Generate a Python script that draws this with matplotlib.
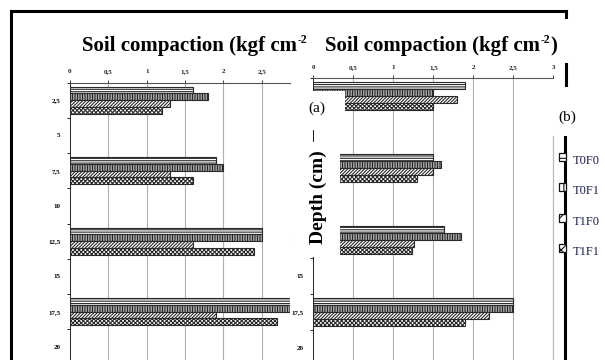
import matplotlib
matplotlib.use("Agg")
import matplotlib.pyplot as plt
from matplotlib.patches import Rectangle
from matplotlib.lines import Line2D
import numpy as np

plt.rcParams['font.family'] = ['Liberation Serif', 'DejaVu Serif']
plt.rcParams['hatch.linewidth'] = 0.8

# ---------------- data ----------------
depth_labels = ['2,5', '5', '7,5', '10', '12,5', '15', '17,5', '20']
data_depth_idx = [0, 2, 4, 6]           # 2.5, 7.5, 12.5, 17.5 cm
series = ['T0F0', 'T0F1', 'T1F0', 'T1F1']

a_T0F0 = [1.6, 1.9, 2.5, 3.0]
a_T0F1 = [1.8, 2.0, 2.5, 3.0]
a_T1F0 = [1.3, 1.3, 1.6, 1.9]
a_T1F1 = [1.2, 1.6, 2.4, 2.7]

b_T0F0 = [1.9, 1.5, 1.64, 2.5]
b_T0F1 = [1.5, 1.6, 1.84, 2.5]
b_T1F0 = [1.8, 1.5, 1.26, 2.2]
b_T1F1 = [1.5, 1.3, 1.23, 1.9]

xticks_a = [0, 0.5, 1, 1.5, 2, 2.5]
xticks_b = [0, 0.5, 1, 1.5, 2, 2.5, 3]
xtick_labels_a = ['0', '0,5', '1', '1,5', '2', '2,5']
xtick_labels_b = ['0', '0,5', '1', '1,5', '2', '2,5', '3']

# ---------------- figure ----------------
W, H = 605, 360
fig = plt.figure(figsize=(W / 100, H / 100), dpi=100)

def fx(px):
    return px / W

def fy(py):
    return 1 - py / H

hatches = ['-------', '||||||||||', '//////////', 'xxxxxxxx']
bar_h = 0.19
offsets = [-0.285, -0.095, 0.095, 0.285]
ecol = '#2a2a2a'

def make_panel(left, right, top, cat_px, xlim, xticks, xticklabels, vals, grid_max):
    bottom = top + 8 * cat_px
    ax = fig.add_axes([fx(left), fy(bottom), fx(right) - fx(left), (bottom - top) / H])
    ax.set_xlim(*xlim)
    ax.set_ylim(7.5, -0.5)
    for s, (v, hch, off) in enumerate(zip(vals, hatches, offsets)):
        y = np.array(data_depth_idx) + off
        ax.barh(y, v, height=bar_h, color='white', edgecolor=ecol,
                hatch=hch, linewidth=0.8, zorder=3)
    for g in xticks:
        if 0 < g <= grid_max:
            ax.axvline(g, color='#b0b0b0', lw=0.8, zorder=1)
    ax.xaxis.tick_top()
    ax.set_xticks(xticks)
    ax.set_xticklabels(xticklabels, fontsize=5, fontweight='bold')
    ax.tick_params(axis='x', length=2, width=0.6, pad=4, colors='#222222')
    ax.set_yticks(np.arange(-0.5, 8.0, 1.0))
    ax.set_yticklabels([])
    ax.set_yticks(np.arange(0, 8), minor=True)
    ax.set_yticklabels(depth_labels, minor=True, fontsize=5, fontweight='bold')
    ax.tick_params(axis='y', which='major', length=2.5, width=0.6, direction='out')
    ax.tick_params(axis='y', which='minor', length=0, pad=7)
    for sp in ['right', 'bottom']:
        ax.spines[sp].set_visible(False)
    ax.spines['top'].set_color('#555555')
    ax.spines['top'].set_linewidth(0.8)
    ax.spines['left'].set_color('#222222')
    ax.spines['left'].set_linewidth(0.7)
    ax.patch.set_alpha(0)
    return ax

ax_a = make_panel(70, 290, 82.5, 35.25, (0, 2.868), xticks_a, xtick_labels_a,
                  [a_T0F0, a_T0F1, a_T1F0, a_T1F1], 2.5)
ax_b = make_panel(313.3, 553.3, 78, 36.0, (0, 3.0), xticks_b, xtick_labels_b,
                  [b_T0F0, b_T0F1, b_T1F0, b_T1F1], 2.5)

# white box covering part of panel b (as in the reference composite)
fig.add_artist(Rectangle((fx(293), fy(112)), fx(345) - fx(293), (112 - 91) / H,
                         transform=fig.transFigure, facecolor='white',
                         edgecolor='none', zorder=5))
fig.add_artist(Rectangle((fx(293), fy(257)), fx(340) - fx(293), (257 - 111) / H,
                         transform=fig.transFigure, facecolor='white',
                         edgecolor='none', zorder=5))
fig.add_artist(Line2D([fx(313.3), fx(313.3)], [fy(130), fy(141)],
                      transform=fig.transFigure, color='#222222', lw=0.7, zorder=6))

# titles with small superscript "-2"
renderer = fig.canvas.get_renderer()

def title_with_sup(x_px, y_px, closing):
    t = fig.text(fx(x_px), fy(y_px), 'Soil compaction (kgf cm', fontsize=15,
                 fontweight='bold', ha='left', va='baseline', zorder=7)
    bb = t.get_window_extent(renderer)
    s = fig.text(bb.x1 / W + 1 / W, fy(y_px - 8), '-2', fontsize=8.5,
                 fontweight='bold', ha='left', va='baseline', zorder=7)
    if closing:
        bb2 = s.get_window_extent(renderer)
        fig.text(bb2.x1 / W, fy(y_px), ')', fontsize=15, fontweight='bold',
                 ha='left', va='baseline', zorder=7)

title_with_sup(82, 51, False)
title_with_sup(325, 51, True)

fig.text(fx(318), fy(197), 'Depth (cm)', rotation=90, fontsize=14, fontweight='bold',
         ha='center', va='center', zorder=7)
fig.text(fx(317), fy(108), '(a)', fontsize=11, ha='center', va='center', zorder=7)
fig.text(fx(567), fy(117), '(b)', fontsize=11, ha='center', va='center', zorder=7)

# frame lines
frame_kw = dict(transform=fig.transFigure, color='black', lw=2.2, zorder=8)
fig.add_artist(Line2D([fx(11), fx(566)], [fy(11), fy(11)], **frame_kw))
fig.add_artist(Line2D([fx(11), fx(11)], [fy(11), fy(360)], **frame_kw))
fig.add_artist(Line2D([fx(566), fx(566)], [fy(11), fy(17)], **frame_kw))
fig.add_artist(Line2D([fx(566), fx(566)], [fy(64), fy(85)], **frame_kw))
fig.add_artist(Line2D([fx(565), fx(565)], [fy(137), fy(360)], **frame_kw))
fig.add_artist(Line2D([fx(553.3), fx(553.3)], [fy(136), fy(360)],
                      transform=fig.transFigure, color='#b8b8b8', lw=0.9, zorder=2))

# legend (manual)
leg_y = [157, 187, 218, 248]
for name, hch, ly in zip(series, hatches, leg_y):
    fig.add_artist(Rectangle((fx(559), fy(ly + 4)), 7 / W, 8 / H,
                             transform=fig.transFigure, facecolor='white',
                             edgecolor='#111111', hatch=hch[:3], lw=0.9, zorder=9))
    fig.text(fx(573), fy(ly + 4), name, fontsize=9, color='#1c1c50',
             ha='left', va='center', zorder=9)

fig.savefig('out.png', dpi=100)
